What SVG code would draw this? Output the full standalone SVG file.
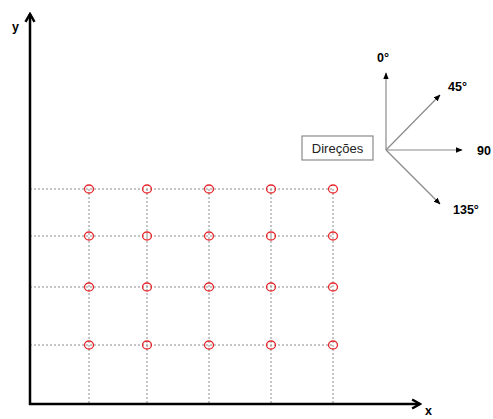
<svg xmlns="http://www.w3.org/2000/svg" width="493" height="419" viewBox="0 0 493 419">
  <style>
    .axis { stroke: #000; stroke-width: 2.5; fill: none; }
    .grid { stroke: #8c8c8c; stroke-width: 1; stroke-dasharray: 2 2; fill: none; }
    .pt { stroke: #e8252a; stroke-width: 1.3; fill: none; }
    .dir { stroke: #8a8a8a; stroke-width: 1.2; fill: none; marker-end: url(#tri); }
    .lbl { font-family: "Liberation Sans", Arial, sans-serif; font-weight: bold; font-size: 12.5px; fill: #000; }
    .box { fill: #fff; stroke: #8a8a8a; stroke-width: 1.2; }
    .boxtxt { font-family: "Liberation Sans", Arial, sans-serif; font-size: 13px; fill: #222; }
  </style>
  <defs>
    <marker id="chev" viewBox="0 0 10 10" refX="8" refY="5" markerWidth="4.5" markerHeight="4.5" orient="auto" markerUnits="strokeWidth">
      <path d="M1,1 L8,5 L1,9" fill="none" stroke="#000" stroke-width="2.2"/>
    </marker>
    <marker id="tri" viewBox="0 0 10 10" refX="9" refY="5" markerWidth="7" markerHeight="7" orient="auto" markerUnits="userSpaceOnUse">
      <path d="M0,1 L10,5 L0,9 Z" fill="#000"/>
    </marker>
  </defs>

  <!-- grid lines -->
  <g id="grid">
    <line class="grid" x1="30" y1="189" x2="333" y2="189"/>
    <line class="grid" x1="30" y1="236" x2="333" y2="236"/>
    <line class="grid" x1="30" y1="287" x2="333" y2="287"/>
    <line class="grid" x1="30" y1="345" x2="333" y2="345"/>
    <line class="grid" x1="89" y1="189" x2="89" y2="404"/>
    <line class="grid" x1="147" y1="189" x2="147" y2="404"/>
    <line class="grid" x1="209" y1="189" x2="209" y2="404"/>
    <line class="grid" x1="271" y1="189" x2="271" y2="404"/>
    <line class="grid" x1="333" y1="189" x2="333" y2="404"/>
  </g>

  <!-- sample points -->
  <g id="points">
    <ellipse class="pt" cx="89" cy="189" rx="4.5" ry="4"/>
    <ellipse class="pt" cx="147" cy="189" rx="4.5" ry="4"/>
    <ellipse class="pt" cx="209" cy="189" rx="4.5" ry="4"/>
    <ellipse class="pt" cx="271" cy="189" rx="4.5" ry="4"/>
    <ellipse class="pt" cx="333" cy="189" rx="4.5" ry="4"/>
    <ellipse class="pt" cx="89" cy="236" rx="4.5" ry="4"/>
    <ellipse class="pt" cx="147" cy="236" rx="4.5" ry="4"/>
    <ellipse class="pt" cx="209" cy="236" rx="4.5" ry="4"/>
    <ellipse class="pt" cx="271" cy="236" rx="4.5" ry="4"/>
    <ellipse class="pt" cx="333" cy="236" rx="4.5" ry="4"/>
    <ellipse class="pt" cx="89" cy="287" rx="4.5" ry="4"/>
    <ellipse class="pt" cx="147" cy="287" rx="4.5" ry="4"/>
    <ellipse class="pt" cx="209" cy="287" rx="4.5" ry="4"/>
    <ellipse class="pt" cx="271" cy="287" rx="4.5" ry="4"/>
    <ellipse class="pt" cx="333" cy="287" rx="4.5" ry="4"/>
    <ellipse class="pt" cx="89" cy="345" rx="4.5" ry="4"/>
    <ellipse class="pt" cx="147" cy="345" rx="4.5" ry="4"/>
    <ellipse class="pt" cx="209" cy="345" rx="4.5" ry="4"/>
    <ellipse class="pt" cx="271" cy="345" rx="4.5" ry="4"/>
    <ellipse class="pt" cx="333" cy="345" rx="4.5" ry="4"/>
  </g>

  <!-- axes -->
  <g id="axes">
    <line class="axis" x1="30" y1="405" x2="30" y2="14" marker-end="url(#chev)"/>
    <line class="axis" x1="29" y1="404" x2="420" y2="404" marker-end="url(#chev)"/>
    <text class="lbl" x="12" y="31" font-size="11">y</text>
    <text class="lbl" x="425" y="415" font-size="10">x</text>
  </g>

  <!-- directions legend -->
  <g id="directions-box">
    <rect class="box" x="302" y="136" width="71" height="24"/>
    <text class="boxtxt" x="337.5" y="152.5" text-anchor="middle">Direções</text>
  </g>
  <g id="direction-arrows">
    <line class="dir" x1="386" y1="150" x2="386" y2="73"/>
    <line class="dir" x1="386" y1="150" x2="440" y2="95"/>
    <line class="dir" x1="386" y1="150" x2="462" y2="150"/>
    <line class="dir" x1="386" y1="150" x2="440" y2="204"/>
  </g>
  <g id="direction-labels">
    <text class="lbl" x="377" y="62">0°</text>
    <text class="lbl" x="448" y="91">45°</text>
    <text class="lbl" x="477" y="155">90</text>
    <text class="lbl" x="453" y="214">135°</text>
  </g>
</svg>
